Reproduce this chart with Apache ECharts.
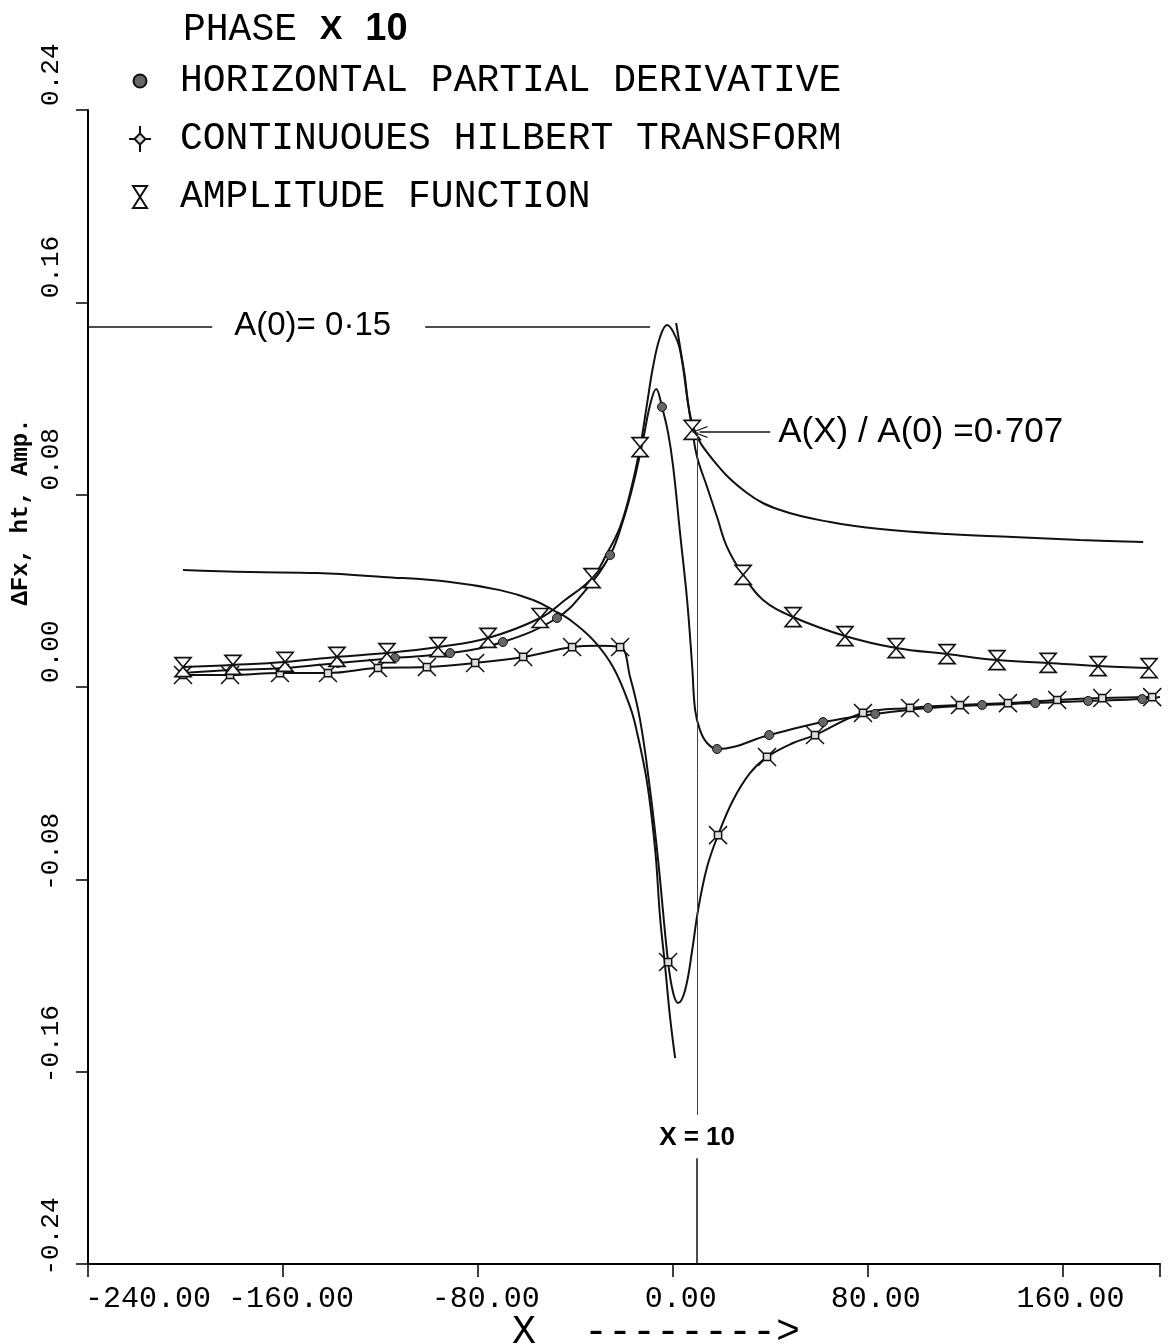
<!DOCTYPE html>
<html><head><meta charset="utf-8">
<script src="https://cdn.jsdelivr.net/npm/echarts@6/dist/echarts.min.js"></script>
<style>html,body{margin:0;padding:0;background:#fff}#c{width:1171px;height:1344px}</style>
</head><body><div id="c"></div>
<script>
// ---------------- data ----------------
const xRange = [-240, 200], xInterval = 80;
const yRange = [-0.24, 0.24], yInterval = 0.08;

// Phase x 10 (no markers): left branch and right branch (phase jump at x ~ 1)
const phaseLeft = [[-201,0.0487],[-173.5,0.0478],[-146,0.0474],[-118.9,0.0458],[-91.4,0.0437],[-70.9,0.0403],[-57.3,0.0362],[-49.1,0.0320],[-42.1,0.0279],[-32.7,0.0196],[-24.5,0.0083],[-17.5,-0.0083],[-14.6,-0.0191],[-10.5,-0.0399],[-7.2,-0.0678],[-5.2,-0.0957],[-3.1,-0.1165],[-1.1,-0.1373],[1.0,-0.1544]];
const phaseRight = [[1.4,0.1514],[4.7,0.1310],[8.4,0.1082],[16.6,0.0944],[30.5,0.0807],[44.1,0.0736],[64.6,0.0686],[85.2,0.0657],[112.6,0.0636],[139.7,0.0624],[167.2,0.0611],[193.1,0.0603]];

// Horizontal partial derivative
const hpdMarkers = [[-201,0.0058],[-180.9,0.0071],[-159.1,0.0079],[-137.4,0.0100],[-114,0.0121],[-91.4,0.0141],[-69.7,0.0187],[-47.5,0.0287],[-25.7,0.0549],[-4.4,0.1165],[18.2,-0.0258],[39.6,-0.0200],[61.7,-0.0146],[83.1,-0.0112],[104.8,-0.0087],[127,-0.0075],[148.8,-0.0067],[170.5,-0.0058],[192.7,-0.0050]];
const hpdCurve = [[-36,0.0400],[-20.3,0.0695],[-16.3,0.0840],[-12.2,0.1027],[-9.3,0.1173],[-6.8,0.1240],[-1.9,0.1057],[0.2,0.0915],[3.0,0.0641],[5.9,0.0362],[8.0,0.0083],[9.2,-0.0096],[11.2,-0.0179],[14.1,-0.0233],[200,-0.0042]];

// Continuous Hilbert transform
const chtMarkers = [[-201,0.0050],[-181.7,0.0050],[-161.2,0.0058],[-141.5,0.0058],[-121,0.0079],[-100.9,0.0083],[-81.1,0.0100],[-61.4,0.0125],[-41.3,0.0166],[-21.6,0.0166],[-1.9,-0.1144],[18.6,-0.0616],[38.7,-0.0291],[58.4,-0.0200],[78.1,-0.0108],[97.4,-0.0087],[117.9,-0.0075],[137.6,-0.0067],[157.8,-0.0054],[176.3,-0.0046],[196.8,-0.0042]];
const chtCurve = [[-31,0.0172],[-17.5,0.0042],[-13.4,-0.0137],[-9.3,-0.0428],[-6.0,-0.0720],[0.2,-0.1273],[2.2,-0.1314],[5.1,-0.1260],[8.0,-0.1094],[10.4,-0.0928],[14.1,-0.0749],[24.8,-0.0470],[31.7,-0.0358],[49.4,-0.0233]];

// Amplitude function
const ampMarkers = [[-201,0.0083],[-180.5,0.0092],[-159.1,0.0104],[-137.8,0.0125],[-117.3,0.0141],[-96.3,0.0166],[-75.8,0.0204],[-54.4,0.0287],[-33.1,0.0453],[-13.4,0.0998],[8.0,0.1069],[28.9,0.0466],[49.4,0.0291],[70.7,0.0212],[91.7,0.0162],[112.6,0.0137],[133.1,0.0112],[154.1,0.0100],[174.6,0.0087],[195.5,0.0079]];
const ampCurve = [[-44.2,0.0362],[-26.9,0.0557],[-21.6,0.0666],[-17.5,0.0807],[-10.5,0.1181],[-8.1,0.1331],[-5.2,0.1456],[-2.3,0.1506],[0.2,0.1477],[3.0,0.1402],[5.9,0.1206],[10.0,0.0957],[14.1,0.0832],[18.2,0.0707],[22.3,0.0582],[37.1,0.0362]];

// annotations
const A0 = 0.15, ratio = 0.707, xRef = 10;
const names = ['HORIZONTAL PARTIAL DERIVATIVE', 'CONTINUOUES HILBERT TRANSFORM', 'AMPLITUDE FUNCTION'];

// ---------------- helpers ----------------
function merged(curve, marks) {
  const pts = curve.map(p => ({ value: p, symbol: 'none' })).concat(marks.map(p => ({ value: p })));
  pts.sort((a, b) => a.value[0] - b.value[0]);
  return pts;
}
const HOUR = 'path://M0,0 L10,0 L0,13 L10,13 Z';
const STAR = 'path://M6,6 L14,6 L14,14 L6,14 Z M0,0 L6,6 M20,0 L14,6 M20,20 L14,14 M0,20 L6,14';
const LEG_DOT = 'path://M0,0 M28,26 M20.5,13 A6.5,6.5 0 1 1 7.5,13 A6.5,6.5 0 1 1 20.5,13 Z';
const LEG_STAR = 'path://M0,0 M28,26 M14,7.5 L19.5,13 L14,18.5 L8.5,13 Z M14,0 L14,7.5 M14,18.5 L14,26 M3,13 L8.5,13 M19.5,13 L25,13';
const LEG_HOUR = 'path://M0,0 M28,26 M7,2 L21,2 L7,24 L21,24 Z';
const ARROW = 'path://M0,14 L6,0 L12,14 L10.8,14 L6,2.6 L1.2,14 Z';

const MONO = '"Liberation Mono", "DejaVu Sans Mono", monospace';
const SANS = '"Liberation Sans", Arial, sans-serif';

function fmtX(v) {
  if (Math.abs(v - xRange[1]) < 1e-9) return '';
  const s = v.toFixed(2);
  return Math.abs(v - xRange[0]) < 1e-9 ? '{f|' + s + '}' : s;
}
function fmtY(v) {
  const a = Math.abs(v) < 1e-9 ? 0 : v;
  return (a < 0 ? '-' : ' ') + Math.abs(a).toFixed(2);
}

const lineBase = { type: 'line', smooth: 0.4, animation: false, z: 3,
  lineStyle: { color: '#111', width: 2 }, emphasis: { disabled: true } };

const chart = echarts.init(document.getElementById('c'), null, { renderer: 'canvas' });
chart.setOption({
  backgroundColor: '#fff',
  animation: false,
  title: {
    text: 'PHASE {x|X} {n|10}', left: 178, top: 6,
    textStyle: { fontFamily: MONO, fontSize: 38, fontWeight: 'normal', color: '#000',
      rich: { x: { fontFamily: SANS, fontWeight: 'bold', fontSize: 34, color: '#000' },
              n: { fontFamily: SANS, fontWeight: 'bold', fontSize: 38, color: '#000' } } }
  },
  legend: {
    orient: 'vertical', left: 120, top: 57, itemWidth: 28, itemHeight: 26, itemGap: 20,
    selectedMode: false,
    textStyle: { fontFamily: MONO, fontSize: 38, color: '#000', lineHeight: 36, padding: [0, 0, 0, 21] },
    data: [ { name: names[0], icon: LEG_DOT }, { name: names[1], icon: LEG_STAR }, { name: names[2], icon: LEG_HOUR } ]
  },
  grid: { left: 88, right: 11, top: 110, bottom: 80, containLabel: false, outerBoundsMode: 'none' },
  xAxis: {
    type: 'value', min: xRange[0], max: xRange[1], interval: xInterval,
    axisLine: { show: true, onZero: false, lineStyle: { color: '#000', width: 2 } },
    axisTick: { show: true, inside: false, length: 13, lineStyle: { color: '#000', width: 1.5 } },
    splitLine: { show: false },
    axisLabel: { fontFamily: MONO, fontSize: 30, color: '#000', margin: 20, align: 'center',
      padding: [0, 0, 0, 16], formatter: fmtX, showMinLabel: true,
      rich: { f: { fontFamily: MONO, fontSize: 30, color: '#000', padding: [0, 0, 0, 104] } } }
  },
  yAxis: {
    type: 'value', min: yRange[0], max: yRange[1], interval: yInterval,
    axisLine: { show: true, onZero: false, lineStyle: { color: '#000', width: 2 } },
    axisTick: { show: true, inside: false, length: 12, lineStyle: { color: '#000', width: 1.5 } },
    splitLine: { show: false },
    axisLabel: { fontFamily: MONO, fontSize: 26, color: '#000', margin: 37, rotate: 90,
      align: 'center', verticalAlign: 'middle', padding: [0, 0, 0, 55], formatter: fmtY,
      showMinLabel: true, showMaxLabel: true }
  },
  graphic: [
    { type: 'text', x: 21, y: 512, rotation: Math.PI / 2,
      style: { text: 'ΔFx, ht, Amp.', fontFamily: MONO, fontSize: 24, fontWeight: 'bold', fill: '#000', align: 'center', verticalAlign: 'middle' } },
    { type: 'text', x: 512, y: 1332,
      style: { text: 'X  -------->', fontFamily: MONO, fontSize: 40, fill: '#000', align: 'left', verticalAlign: 'middle' } }
  ],
  series: [
    Object.assign({}, lineBase, { name: 'PHASE X 10', data: phaseLeft, showSymbol: false, symbol: 'none' }),
    Object.assign({}, lineBase, { name: 'PHASE X 10', data: phaseRight, showSymbol: false, symbol: 'none',
      markLine: {
        silent: true, animation: false, symbol: ['none', 'none'],
        lineStyle: { color: '#111', width: 1.5, type: 'solid' },
        label: { show: false, color: '#000', fontFamily: SANS, fontSize: 32 },
        emphasis: { disabled: true },
        data: [
          [ { coord: [xRange[0], A0] },
            { coord: [-189, A0], label: { show: true, position: 'end', distance: 22, formatter: 'A(0)= 0·15', fontFamily: SANS, fontSize: 33, color: '#000' } } ],
          [ { coord: [-101.6, A0] }, { coord: [-9.3, A0] } ],
          [ { coord: [40, ratio * A0], label: { show: true, position: 'start', distance: 8, formatter: 'A(X) / A(0) =0·707', fontFamily: SANS, fontSize: 35, color: '#000' } },
            { coord: [11, ratio * A0], symbol: ARROW, symbolSize: [12, 16] } ],
          [ { coord: [xRef, ratio * A0], lineStyle: { width: 1, color: '#444' } },
            { coord: [xRef, -0.178], label: { show: true, position: 'end', distance: 10, formatter: 'X = 10', fontFamily: SANS, fontWeight: 'bold', fontSize: 26, color: '#000' } } ],
          [ { coord: [xRef, -0.196] }, { coord: [xRef, yRange[0]] } ]
        ]
      } }),
    Object.assign({}, lineBase, { name: names[0], data: merged(hpdCurve, hpdMarkers), showSymbol: true,
      symbol: 'circle', symbolSize: 9, itemStyle: { color: '#666', borderColor: '#111', borderWidth: 1 } }),
    Object.assign({}, lineBase, { name: names[1], data: merged(chtCurve, chtMarkers), showSymbol: true,
      symbol: STAR, symbolSize: 18, itemStyle: { color: '#ddd', borderColor: '#111', borderWidth: 1.5 } }),
    Object.assign({}, lineBase, { name: names[2], data: merged(ampCurve, ampMarkers), showSymbol: true,
      symbol: HOUR, symbolSize: [16, 19], itemStyle: { color: '#fff', borderColor: '#111', borderWidth: 1.6 } })
  ]
});
</script></body></html>
